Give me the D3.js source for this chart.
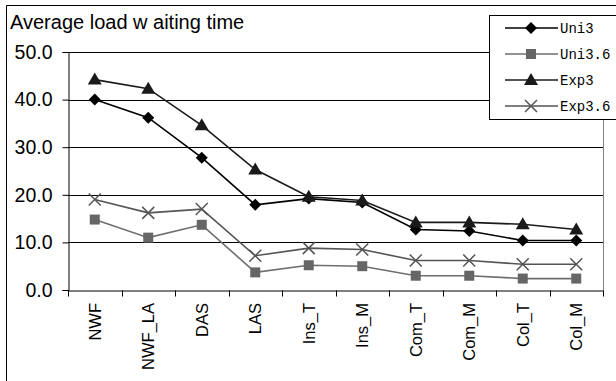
<!DOCTYPE html>
<html><head><meta charset="utf-8">
<script src="https://cdn.jsdelivr.net/npm/d3@7"></script>
<style>body{margin:0;background:#fff}svg{display:block}</style>
</head><body>
<svg id="c" width="616" height="381"></svg>
<script>
const categories = ["NWF","NWF_LA","DAS","LAS","Ins_T","Ins_M","Com_T","Com_M","Col_T","Col_M"];
const uni3   = [40.0,36.2,27.8,17.9,19.2,18.4,12.7,12.4,10.4,10.4];
const uni36  = [14.8,11.0,13.7,3.7,5.2,5.0,3.0,3.0,2.4,2.4];
const exp3   = [44.2,42.3,34.6,25.3,19.6,18.8,14.2,14.2,13.8,12.7];
const exp36  = [19.0,16.2,17.0,7.2,8.8,8.5,6.2,6.2,5.4,5.4];
const seriesNames = ["Uni3","Uni3.6","Exp3","Exp3.6"];
const yTicks = [0,10,20,30,40,50];
const title = "Average load w aiting time";

const series = [
  {name: seriesNames[0], values: uni3,  color:"#000000", fill:"#000000", marker:"diamond"},
  {name: seriesNames[1], values: uni36, color:"#6e6e6e", fill:"#666666", marker:"square"},
  {name: seriesNames[2], values: exp3,  color:"#1a1a1a", fill:"#1a1a1a", marker:"triangle"},
  {name: seriesNames[3], values: exp36, color:"#555555", fill:"none",    marker:"x"}
];

const svg = d3.select("#c");
svg.append("rect").attr("width",616).attr("height",381).attr("fill","#fff");
// outer frame
svg.append("path").attr("d","M6.5,400V5.5H640").attr("fill","none").attr("stroke","#000").attr("stroke-width",1);

const L=68, R=603, T=52, B=290;
const x = d3.scaleBand().domain(categories).range([L,R]);
const y = d3.scaleLinear().domain([0,50]).range([B,T]);

// gridlines
svg.append("g").selectAll("line").data(yTicks.filter(d=>d>0)).join("line")
  .attr("x1",L).attr("x2",R).attr("y1",d=>Math.round(y(d))+0.5).attr("y2",d=>Math.round(y(d))+0.5)
  .attr("stroke","#000").attr("stroke-width",1);
// right border of plot
svg.append("line").attr("x1",R+0.5).attr("x2",R+0.5).attr("y1",T).attr("y2",B).attr("stroke","#808080");

// y axis
const ya = svg.append("g").attr("transform",`translate(${L+0.5},0)`)
  .call(d3.axisLeft(y).tickValues(yTicks).tickFormat(d3.format(".1f")).tickSize(6).tickPadding(10));
ya.select(".domain").attr("stroke","#000");
ya.selectAll("text").attr("font-family","Liberation Sans, Arial, sans-serif").attr("font-size","19.5px").attr("fill","#000");

// x axis
const xa = svg.append("g").attr("transform",`translate(0,${B+0.5})`)
  .call(d3.axisBottom(x).tickSize(0).tickPadding(0));
xa.select(".domain").attr("stroke","#000");
xa.selectAll(".tick text").remove();
xa.selectAll(".tick line").remove();
// boundary ticks
const bounds = categories.map(c=>x(c)).concat([R]);
xa.selectAll("line.bt").data(bounds).join("line").attr("class","bt")
  .attr("x1",d=>Math.round(d)+0.5).attr("x2",d=>Math.round(d)+0.5).attr("y1",0).attr("y2",6).attr("stroke","#000");
// labels
svg.append("g").selectAll("text").data(categories).join("text")
  .attr("transform",d=>`translate(${x(d)+x.bandwidth()/2+6},303) rotate(-90)`)
  .attr("text-anchor","end")
  .attr("font-family","Liberation Sans, Arial, sans-serif").attr("font-size","16.5px").attr("fill","#000")
  .text(d=>d);

// title
svg.append("text").attr("x",10).attr("y",29).attr("font-family","Liberation Sans, Arial, sans-serif")
  .attr("font-size","20px").attr("fill","#000").text(title);

function drawMarker(g, type, cx, cy, s) {
  if (type==="diamond") {
    g.append("path").attr("d",`M${cx},${cy-6}L${cx+6},${cy}L${cx},${cy+6}L${cx-6},${cy}Z`).attr("fill",s.fill);
  } else if (type==="square") {
    g.append("rect").attr("x",cx-5).attr("y",cy-5).attr("width",10).attr("height",10).attr("fill",s.fill);
  } else if (type==="triangle") {
    g.append("path").attr("d",`M${cx},${cy-7}L${cx+7},${cy+5}L${cx-7},${cy+5}Z`).attr("fill",s.fill);
  } else {
    g.append("path").attr("d",`M${cx-6},${cy-6}L${cx+6},${cy+6}M${cx+6},${cy-6}L${cx-6},${cy+6}`)
      .attr("stroke",s.color).attr("stroke-width",1.5).attr("fill","none");
  }
}

const line = d3.line().x((d,i)=>x(categories[i])+x.bandwidth()/2).y(d=>y(d));
[3,1,0,2].forEach(k=>{
  const s = series[k];
  const g = svg.append("g");
  g.append("path").attr("d",line(s.values)).attr("fill","none").attr("stroke",s.color).attr("stroke-width",1.6);
  s.values.forEach((v,i)=>drawMarker(g, s.marker, x(categories[i])+x.bandwidth()/2, y(v), s));
});

// legend
const lg = svg.append("g");
lg.append("rect").attr("x",489.5).attr("y",15.5).attr("width",160).attr("height",104)
  .attr("fill","#fff").attr("stroke","#000").attr("stroke-width",1);
series.forEach((s,i)=>{
  const yy = 28 + i*26;
  lg.append("line").attr("x1",505).attr("x2",558).attr("y1",yy).attr("y2",yy).attr("stroke",s.color).attr("stroke-width",1.6);
  drawMarker(lg, s.marker, 531, yy, s);
  lg.append("text").attr("x",560).attr("y",yy+5).attr("font-family","Liberation Mono, Courier New, monospace")
    .attr("font-size","14px").attr("fill","#000").text(s.name);
});
</script>
</body></html>
